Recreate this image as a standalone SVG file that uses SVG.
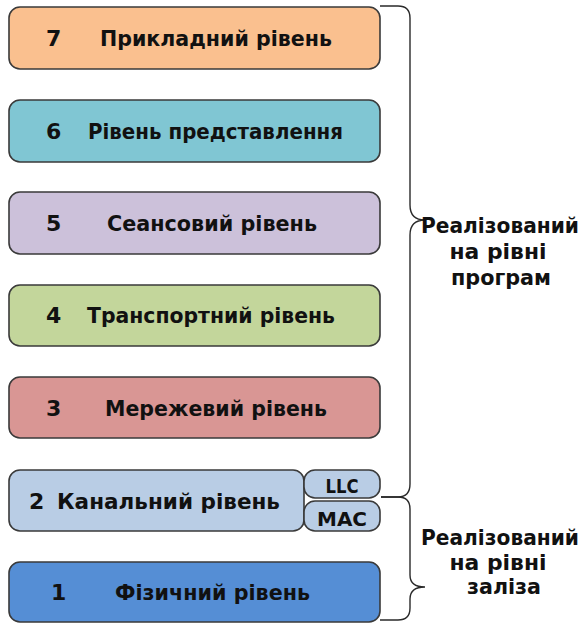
<svg xmlns="http://www.w3.org/2000/svg" width="585" height="623" viewBox="0 0 585 623">
<style>
.box{stroke:#3a3a3a;stroke-width:1.6}
.t{font-family:"DejaVu Sans","Liberation Sans",sans-serif;font-weight:bold;font-size:22px;fill:#111}
.s{font-family:"DejaVu Sans","Liberation Sans",sans-serif;font-weight:bold;font-size:20px;fill:#111;text-anchor:middle}
.r{font-family:"DejaVu Sans","Liberation Sans",sans-serif;font-weight:bold;font-size:21px;fill:#111;text-anchor:middle}
.br{fill:none;stroke:#2a2a2a;stroke-width:1.4}
</style>
<rect width="585" height="623" fill="#fff"/>
<g id="l7"><rect class="box" x="9" y="7" width="371" height="62" rx="11" fill="#FAC08F"/>
<text class="t" x="46" y="46">7</text><text class="t" x="100" y="46" textLength="232" lengthAdjust="spacingAndGlyphs">Прикладний рівень</text></g>
<g id="l6"><rect class="box" x="9" y="100" width="371" height="62" rx="11" fill="#80C6D3"/>
<text class="t" x="46" y="139">6</text><text class="t" x="88" y="139" textLength="255" lengthAdjust="spacingAndGlyphs">Рівень представлення</text></g>
<g id="l5"><rect class="box" x="9" y="192" width="371" height="62" rx="11" fill="#CCC1DA"/>
<text class="t" x="46" y="231">5</text><text class="t" x="107" y="231" textLength="210" lengthAdjust="spacingAndGlyphs">Сеансовий рівень</text></g>
<g id="l4"><rect class="box" x="9" y="285" width="371" height="61" rx="11" fill="#C3D69B"/>
<text class="t" x="46" y="323">4</text><text class="t" x="87" y="323" textLength="248" lengthAdjust="spacingAndGlyphs">Транспортний рівень</text></g>
<g id="l3"><rect class="box" x="9" y="377" width="371" height="61" rx="11" fill="#D99694"/>
<text class="t" x="46" y="416">3</text><text class="t" x="105" y="416" textLength="222" lengthAdjust="spacingAndGlyphs">Мережевий рівень</text></g>
<g id="l2"><rect class="box" x="9" y="470" width="295" height="61" rx="11" fill="#B9CDE5"/>
<text class="t" x="29" y="509">2</text><text class="t" x="57" y="509" textLength="223" lengthAdjust="spacingAndGlyphs">Канальний рівень</text></g>
<g id="llc"><rect class="box" x="304" y="470" width="76" height="28" rx="11" fill="#B9CDE5"/>
<text class="s" x="342" y="493" textLength="33" lengthAdjust="spacingAndGlyphs">LLC</text></g>
<g id="mac"><rect class="box" x="304" y="501" width="76" height="30" rx="11" fill="#B9CDE5"/>
<text class="s" x="342" y="526" textLength="50" lengthAdjust="spacingAndGlyphs">MAC</text></g>
<g id="l1"><rect class="box" x="9" y="562" width="371" height="60" rx="11" fill="#558ED5"/>
<text class="t" x="51" y="600">1</text><text class="t" x="115" y="600" textLength="195" lengthAdjust="spacingAndGlyphs">Фізичний рівень</text></g>
<g id="braces">
<path class="br" d="M380 6 H398 Q410 6 410 18 V205 Q410 220 425 220 Q410 220 410 235 V484 Q410 497 398 497 H381"/>
<path class="br" d="M381 497 H398 Q410 497 410 509 V575 Q410 587 425 587 Q410 587 410 599 V608 Q410 620 398 620 H380"/>
</g>
<g id="labels">
<text class="r" x="500" y="233" textLength="158" lengthAdjust="spacingAndGlyphs">Реалізований</text>
<text class="r" x="498" y="259" textLength="97" lengthAdjust="spacingAndGlyphs">на рівні</text>
<text class="r" x="501" y="285" textLength="100" lengthAdjust="spacingAndGlyphs">програм</text>
<text class="r" x="500" y="545" textLength="158" lengthAdjust="spacingAndGlyphs">Реалізований</text>
<text class="r" x="498" y="570" textLength="97" lengthAdjust="spacingAndGlyphs">на рівні</text>
<text class="r" x="504" y="594" textLength="74" lengthAdjust="spacingAndGlyphs">заліза</text>
</g>
</svg>
